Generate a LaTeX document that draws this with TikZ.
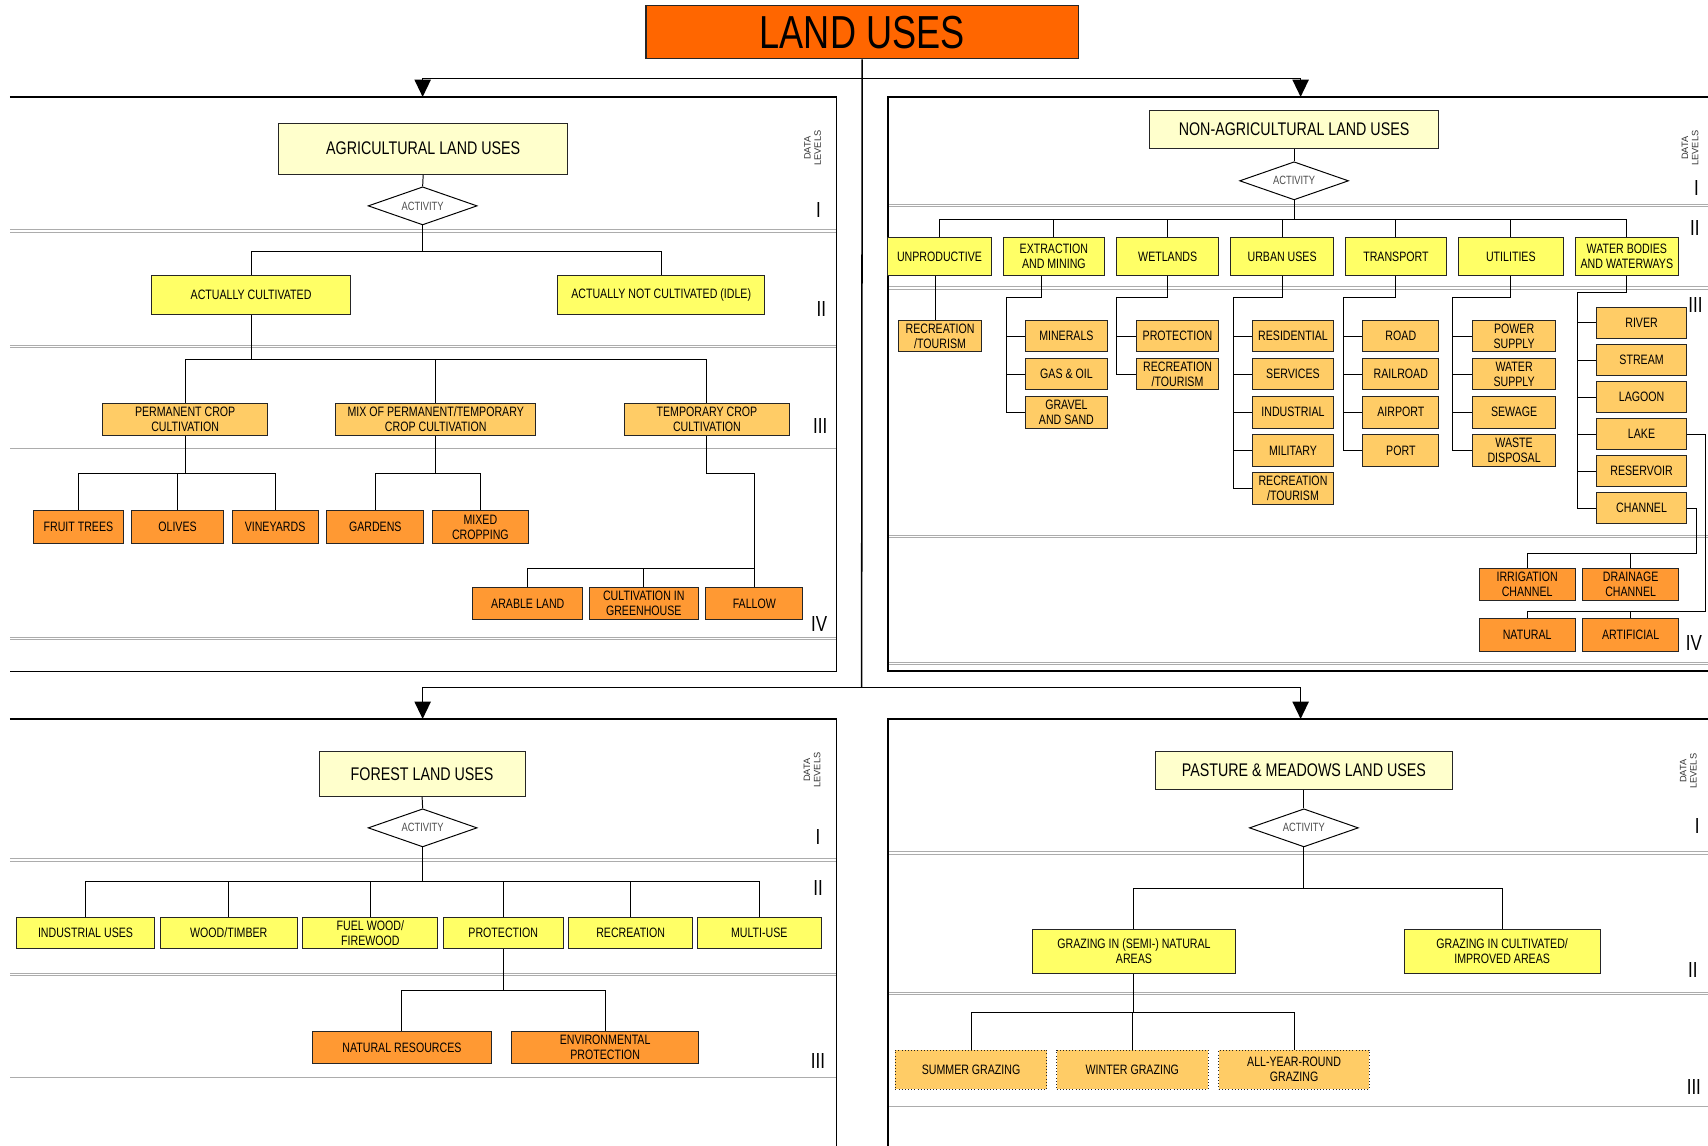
\documentclass[tikz,border=0pt]{standalone}
\usepackage{fontspec}
\setmainfont{Liberation Sans}[FakeStretch=0.78]
\newfontfamily\widefont{Liberation Sans}
\usetikzlibrary{shapes.geometric,arrows.meta}
\definecolor{hy}{HTML}{FFFFCC}
\definecolor{yel}{HTML}{FFFF66}
\definecolor{lor}{HTML}{FFCC66}
\definecolor{org}{HTML}{FF9933}
\definecolor{ttl}{HTML}{FF6600}
\newcommand\mybox[7]{\node[#6, minimum width={#4-#2}, minimum height={#5-#3}] (#1) at ({(#2+#4)/2},{(#3+#5)/2}) {#7};}
\begin{document}
\begin{tikzpicture}[x=1pt,y=-1pt,
 bx/.style={draw=black!85, line width=0.9pt, inner sep=0pt, align=center, font=\fontsize{12.5}{13.8}\selectfont, text=black},
 hd/.style={bx, fill=hy, font=\fontsize{16.8}{19}\selectfont},
 l2/.style={bx, fill=yel},
 l3/.style={bx, fill=lor},
 l4/.style={bx, fill=org},
 l3d/.style={bx, fill=lor, dotted},
 ttlbox/.style={bx, fill=ttl, line width=1.1pt, font=\fontsize{42.5}{42.5}\selectfont, text=black},
 act/.style={diamond, aspect=3, draw=black, line width=0.9pt, fill=white, minimum width=100pt, minimum height=35pt, inner sep=0pt, font=\fontsize{11}{12}\selectfont, text=black!70},
 edge/.style={draw=black, line width=0.9pt},
 panel/.style={draw=black, line width=1.4pt},
 mainln/.style={draw=black, line width=1.4pt},
 sepln/.style={draw=gray!65, line width=0.8pt, double=white, double distance=1.4pt},
 lvl/.style={font=\fontsize{20}{20}\selectfont, inner sep=0pt},
 dl/.style={font=\widefont\fontsize{8.5}{9.5}\selectfont, rotate=90, align=center, text=black!80, inner sep=0pt},
 tip/.style={-{Triangle[width=15pt,length=16pt]}}
]
\useasboundingbox (0,0) rectangle (1568,1052);

% ---------- separators ----------
\foreach \y in {212,318,410.5,586} \draw[sepln] (9,\y) -- (768,\y);
\foreach \y in {188.5,264.5,492.5,609} \draw[sepln] (815,\y) -- (1568,\y);
\foreach \y in {789.5,894.5,988} \draw[sepln] (9,\y) -- (768,\y);
\foreach \y in {783,912,1017} \draw[sepln] (815,\y) -- (1568,\y);

% ---------- panels ----------
\draw[panel] (9,89) -- (768,89) -- (768,616.5) -- (9,616.5);
\draw[panel] (1568,89) -- (815,89) -- (815,616) -- (1568,616);
\draw[panel] (9,660) -- (768,660) -- (768,1052);
\draw[panel] (1568,660) -- (815,660) -- (815,1052);

% ---------- title ----------
\mybox{title}{593}{5}{990}{54}{ttlbox}{LAND USES}
\coordinate (hub1) at (791,72);
\coordinate (hub2) at (791,631);
\coordinate (agtop) at (388,89);
\coordinate (natop) at (1194,89);
\coordinate (fotop) at (388,660);
\coordinate (patop) at (1194,660);
\draw[mainln] (title.south) -- (hub2);
\draw[mainln,tip] (hub1) -| (agtop);
\draw[mainln,tip] (hub1) -| (natop);
\draw[mainln,tip] (hub2) -| (fotop);
\draw[mainln,tip] (hub2) -| (patop);

% ---------- data levels labels ----------
\node[dl] (dl1) at (746,136) {DATA\\LEVELS};
\node[dl] (dl2) at (1551.5,136) {DATA\\LEVELS};
\node[dl] (dl3) at (745.5,707) {DATA\\LEVELS};
\node[dl] (dl4) at (1550,708) {DATA\\LEVELS};
\node[lvl] (a1) at (751.5,193) {I};
\node[lvl] (a2) at (754,284) {II};
\node[lvl] (a3) at (753,391.5) {III};
\node[lvl] (a4) at (752,573) {IV};
\node[lvl] (b1) at (1557.5,172.5) {I};
\node[lvl] (b2) at (1556,209.5) {II};
\node[lvl] (b3) at (1556.5,280) {III};
\node[lvl] (b4) at (1555,590) {IV};
\node[lvl] (c1) at (751,768) {I};
\node[lvl] (c2) at (751,815) {II};
\node[lvl] (c3) at (751,974) {III};
\node[lvl] (d1) at (1558,758) {I};
\node[lvl] (d2) at (1554,890.5) {II};
\node[lvl] (d3) at (1555,998) {III};

% ---------- agricultural ----------
\mybox{ah}{256}{113}{521}{160}{hd}{AGRICULTURAL LAND USES}
\node[act] (a1d) at (388,189) {ACTIVITY};
\mybox{ac}{139}{253}{322}{289}{l2}{ACTUALLY CULTIVATED}
\mybox{idle}{512}{253}{702}{289}{l2}{ACTUALLY NOT CULTIVATED (IDLE)}
\mybox{pc}{94}{370}{246}{400}{l3}{PERMANENT CROP\\CULTIVATION}
\mybox{mc}{308}{370}{492}{400}{l3}{MIX OF PERMANENT/TEMPORARY\\CROP CULTIVATION}
\mybox{tc}{573}{370}{725}{400}{l3}{TEMPORARY CROP\\CULTIVATION}
\mybox{ft}{31}{469}{113}{499}{l4}{FRUIT TREES}
\mybox{ol}{121}{469}{205}{499}{l4}{OLIVES}
\mybox{vy}{213}{469}{292}{499}{l4}{VINEYARDS}
\mybox{gd}{300}{469}{389}{499}{l4}{GARDENS}
\mybox{mx}{397}{469}{485}{499}{l4}{MIXED\\CROPPING}
\mybox{ar}{434}{539}{535}{569}{l4}{ARABLE LAND}
\mybox{gh}{541}{539}{641}{569}{l4}{CULTIVATION IN\\GREENHOUSE}
\mybox{fl}{648}{539}{737}{569}{l4}{FALLOW}
\draw[edge] (ah.south) -- (a1d.north);
\foreach \c in {ac,idle} \draw[edge] (a1d.south) -- ++(0,23.5) -| (\c.north);
\foreach \c in {pc,mc,tc} \draw[edge] (ac.south) -- ++(0,41) -| (\c.north);
\foreach \c in {ft,ol,vy} \draw[edge] (pc.south) -- ++(0,34) -| (\c.north);
\foreach \c in {gd,mx} \draw[edge] (mc.south) -- ++(0,34) -| (\c.north);
\draw[edge] (tc.south) -- ++(0,34) -| (fl.north);
\foreach \c in {ar,gh} \draw[edge] (\c.north) -- ++(0,-17) -| (fl.north);

% ---------- non-agricultural ----------
\mybox{nh}{1055}{101}{1321}{136}{hd}{NON-AGRICULTURAL LAND USES}
\node[act] (n1d) at (1188,166) {ACTIVITY};
\mybox{un}{815}{218}{910}{253}{l2}{UNPRODUCTIVE}
\mybox{ex}{921}{218}{1014}{253}{l2}{EXTRACTION\\AND MINING}
\mybox{we}{1025}{218}{1119}{253}{l2}{WETLANDS}
\mybox{ur}{1130}{218}{1224}{253}{l2}{URBAN USES}
\mybox{tr}{1235}{218}{1328}{253}{l2}{TRANSPORT}
\mybox{ut}{1339}{218}{1435}{253}{l2}{UTILITIES}
\mybox{wb}{1446}{218}{1541}{253}{l2}{WATER BODIES\\AND WATERWAYS}
\draw[edge] (nh.south) -- (n1d.north);
\foreach \c in {un,ex,we,ur,tr,ut,wb} \draw[edge] (n1d.south) -- ++(0,17.5) -| (\c.north);

\mybox{rt1}{825}{294}{901}{323}{l3}{RECREATION\\/TOURISM}
\mybox{mi}{941}{294}{1017}{323}{l3}{MINERALS}
\mybox{go}{941}{329}{1017}{358}{l3}{GAS \& OIL}
\mybox{gs}{941}{364}{1017}{393}{l3}{GRAVEL\\AND SAND}
\mybox{pr}{1043}{294}{1119}{323}{l3}{PROTECTION}
\mybox{rt2}{1043}{329}{1119}{358}{l3}{RECREATION\\/TOURISM}
\mybox{rs}{1150}{294}{1224}{323}{l3}{RESIDENTIAL}
\mybox{sv}{1150}{329}{1224}{358}{l3}{SERVICES}
\mybox{ind}{1150}{364}{1224}{393}{l3}{INDUSTRIAL}
\mybox{ml}{1150}{399}{1224}{428}{l3}{MILITARY}
\mybox{rt3}{1150}{434}{1224}{463}{l3}{RECREATION\\/TOURISM}
\mybox{rd}{1251}{294}{1321}{323}{l3}{ROAD}
\mybox{rr}{1251}{329}{1321}{358}{l3}{RAILROAD}
\mybox{ap}{1251}{364}{1321}{393}{l3}{AIRPORT}
\mybox{po}{1251}{399}{1321}{428}{l3}{PORT}
\mybox{ps}{1352}{294}{1428}{323}{l3}{POWER\\SUPPLY}
\mybox{ws}{1352}{329}{1428}{358}{l3}{WATER\\SUPPLY}
\mybox{se}{1352}{364}{1428}{393}{l3}{SEWAGE}
\mybox{wd}{1352}{399}{1428}{428}{l3}{WASTE\\DISPOSAL}
\mybox{rv}{1466}{282}{1548}{311}{l3}{RIVER}
\mybox{st}{1466}{316}{1548}{345}{l3}{STREAM}
\mybox{lg}{1466}{350}{1548}{379}{l3}{LAGOON}
\mybox{lk}{1466}{384}{1548}{413}{l3}{LAKE}
\mybox{rsv}{1466}{418}{1548}{447}{l3}{RESERVOIR}
\mybox{ch}{1466}{452}{1548}{481}{l3}{CHANNEL}
\mybox{ir}{1358}{522}{1446}{551}{l4}{IRRIGATION\\CHANNEL}
\mybox{dr}{1453}{522}{1541}{551}{l4}{DRAINAGE\\CHANNEL}
\mybox{na}{1358}{568}{1446}{598}{l4}{NATURAL}
\mybox{af}{1453}{568}{1541}{598}{l4}{ARTIFICIAL}

\draw[edge] ([xshift=-4pt]un.south) -- ([xshift=-4pt]un.south |- rt1.north);
\draw[edge] ([xshift=-11pt]ex.south) -- ++(0,20) -| ([xshift=-17pt]gs.west) -- (gs.west);
\foreach \c in {mi,go} \draw[edge] ([xshift=-17pt]\c.west) -- (\c.west);
\draw[edge] (we.south) -- ++(0,20) -| ([xshift=-18pt]rt2.west) -- (rt2.west);
\draw[edge] ([xshift=-18pt]pr.west) -- (pr.west);
\draw[edge] (ur.south) -- ++(0,20) -| ([xshift=-17.5pt]rt3.west) -- (rt3.west);
\foreach \c in {rs,sv,ind,ml} \draw[edge] ([xshift=-17.5pt]\c.west) -- (\c.west);
\draw[edge] (tr.south) -- ++(0,20) -| ([xshift=-17.5pt]po.west) -- (po.west);
\foreach \c in {rd,rr,ap} \draw[edge] ([xshift=-17.5pt]\c.west) -- (\c.west);
\draw[edge] (ut.south) -- ++(0,20) -| ([xshift=-18pt]wd.west) -- (wd.west);
\foreach \c in {ps,ws,se} \draw[edge] ([xshift=-18pt]\c.west) -- (\c.west);
\draw[edge] (wb.south) -- ++(0,15) -| ([xshift=-17.5pt]ch.west) -- (ch.west);
\foreach \c in {rv,st,lg,lk,rsv} \draw[edge] ([xshift=-17.5pt]\c.west) -- (\c.west);
\foreach \c in {na,af} \draw[edge] (lk.east) -- ++(17,0) -- ++(0,163) -| (\c.north);
\foreach \c in {ir,dr} \draw[edge] (ch.east) -- ++(9,0) -- ++(0,41.5) -| (\c.north);

% ---------- forest ----------
\mybox{fh}{293}{690}{482}{731}{hd}{FOREST LAND USES}
\node[act] (f1d) at (388,760) {ACTIVITY};
\mybox{iu}{15}{842}{142}{871}{l2}{INDUSTRIAL USES}
\mybox{wt}{147}{842}{273}{871}{l2}{WOOD/TIMBER}
\mybox{fw}{278}{842}{402}{871}{l2}{FUEL WOOD/\\FIREWOOD}
\mybox{fpt}{407}{842}{517}{871}{l2}{PROTECTION}
\mybox{rc}{522}{842}{636}{871}{l2}{RECREATION}
\mybox{mu}{640}{842}{754}{871}{l2}{MULTI-USE}
\mybox{nr}{287}{947}{451}{976}{l4}{NATURAL RESOURCES}
\mybox{ep}{470}{947}{641}{976}{l4}{ENVIRONMENTAL\\PROTECTION}
\draw[edge] (fh.south) -- (f1d.north);
\foreach \c in {iu,wt,fw,fpt,rc,mu} \draw[edge] (f1d.south) -- ++(0,31) -| (\c.north);
\foreach \c in {nr,ep} \draw[edge] (fpt.south) -- ++(0,38) -| (\c.north);

% ---------- pasture ----------
\mybox{ph}{1061}{690}{1333}{725}{hd}{PASTURE \& MEADOWS LAND USES}
\node[act] (p1d) at (1197,760) {ACTIVITY};
\mybox{gn}{948}{853}{1134}{894}{l2}{GRAZING IN (SEMI-) NATURAL\\AREAS}
\mybox{gc}{1289}{853}{1469}{894}{l2}{GRAZING IN CULTIVATED/\\IMPROVED AREAS}
\mybox{sg}{822}{964}{961}{1000}{l3d}{SUMMER GRAZING}
\mybox{wg}{970}{964}{1109}{1000}{l3d}{WINTER GRAZING}
\mybox{ay}{1119}{964}{1257}{1000}{l3d}{ALL-YEAR-ROUND\\GRAZING}
\draw[edge] (ph.south) -- (p1d.north);
\foreach \c in {gn,gc} \draw[edge] (p1d.south) -- ++(0,38) -| (\c.north);
\foreach \c in {sg,wg,ay} \draw[edge] (gn.south) -- ++(0,35) -| (\c.north);
\end{tikzpicture}
\end{document}
